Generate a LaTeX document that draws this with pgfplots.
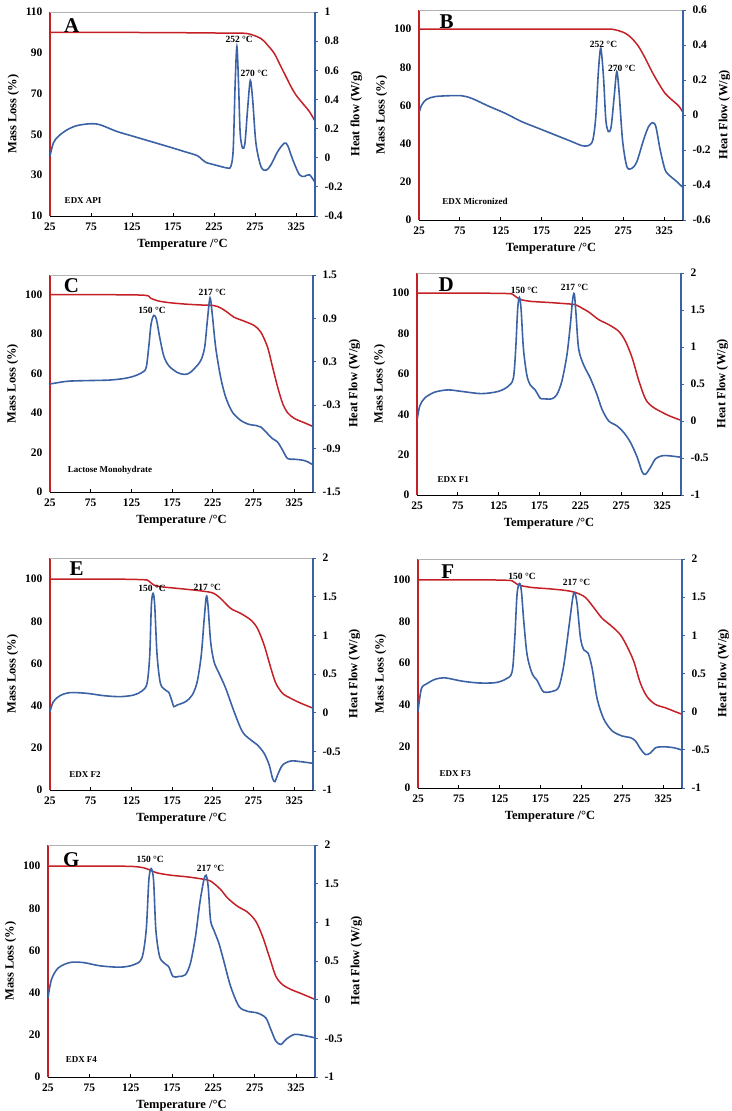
\documentclass[border=0pt]{standalone}
\usepackage{pgfplots}
\pgfplotsset{compat=1.18}
\usepackage{fontspec}
\setmainfont{Liberation Serif}
\definecolor{tgared}{RGB}{196,32,38}
\definecolor{dscblue}{RGB}{60,98,166}
\pgfplotsset{
  base/.style={scale only axis, xmin=25, xmax=348,
    /pgf/number format/assume math mode=true,
    tick label style={font=\fontsize{11.5}{12}\selectfont\bfseries},
    label style={font=\fontsize{12.5}{14}\selectfont\bfseries}},
  leftax/.style={base, axis x line*=bottom, axis y line*=left,
    xtick={25,75,...,325}, tick align=inside,
    x axis line style={black, line width=0.9pt},
    y axis line style={tgared, line width=1.8pt},
    xtick style={black, line width=0.8pt}, major tick length=3pt,
    ytick style={draw=none},
    xticklabel style={yshift=-3pt},
    yticklabel style={xshift=-4pt},
    xlabel style={yshift=-2pt},
    ylabel style={yshift=0pt},
    xlabel={Temperature /°C}, ylabel={Mass Loss (\%)},
    ymin=0, ymax=110, ytick={0,20,...,100}},
  rightax/.style={base, axis x line*=top, axis y line*=right,
    xtick=\empty, x axis line style={gray!60, line width=0.8pt},
    y axis line style={dscblue, line width=1.8pt},
    tick align=outside, ytick style={dscblue, line width=0.8pt}, major tick length=3pt,
    yticklabel style={xshift=3pt},
    ylabel style={yshift=-1pt},
    ylabel={Heat Flow (W/g)}},
  redc/.style={tgared, line width=1.5pt, smooth, no marks},
  bluec/.style={dscblue, line width=1.6pt, smooth, no marks},
}
\tikzset{
  pk/.style={font=\fontsize{9.5}{10}\selectfont\bfseries},
  letter/.style={font=\fontsize{21}{22}\selectfont\bfseries},
  samp/.style={font=\fontsize{9}{10}\selectfont\bfseries},
}
\begin{document}
\begin{tikzpicture}
\path[use as bounding box] (0pt,0pt) rectangle (731pt,1111pt);
% ---------------- A
\begin{axis}[leftax, at={(50pt,895pt)}, anchor=south west, width=265pt, height=204pt,
  ymin=10, ymax=110, ytick={10,30,...,110}]
\addplot[redc] coordinates {(25,100)(100,100)(200,99.8)(245,99.6)(265.8,99.4)(282.1,97)(290.3,93.7)(298.5,89.6)(306.6,83.1)(312.8,78.2)(318.9,73.3)(325,69.2)(333.2,65.1)(341.3,61.1)(348,56.5)};
\node[letter] at (rel axis cs:0.082,0.935) {A};
\node[samp] at (rel axis cs:0.125,0.078) {EDX API};
\end{axis}
\begin{axis}[rightax, at={(50pt,895pt)}, anchor=south west, width=265pt, height=204pt,
  ymin=-0.4, ymax=1, ytick={-0.4,-0.2,0,0.2,0.4,0.6,0.8,1}, ylabel={Heat flow (W/g)}]
\addplot[bluec] coordinates {(25,0.01)(29,0.10)(35,0.146)(45.4,0.19)(57.7,0.22)(74,0.233)(86,0.226)(106.6,0.18)(127,0.146)(147.4,0.112)(167.9,0.078)(188.3,0.043)(204.6,0.014)(210.7,-0.014)(214.8,-0.032)(225,-0.048)(241.3,-0.071)(245.4,-0.06)(248.3,0.055)(250.7,0.51)(252.8,0.763)(254.8,0.51)(256.8,0.17)(259.7,0.066)(262.6,0.10)(265.8,0.33)(269.1,0.53)(272,0.40)(276,0.10)(282.1,-0.06)(288.3,-0.087)(294.4,-0.048)(302.6,0.043)(310.7,0.10)(314.8,0.082)(320.9,-0.014)(329,-0.117)(335.2,-0.128)(341.3,-0.117)(348,-0.17)};
\node[pk] at (axis cs:255.6,0.814) {252 °C};
\node[pk] at (axis cs:274,0.576) {270 °C};
\end{axis}
% ---------------- B
\begin{axis}[leftax, at={(419pt,891pt)}, anchor=south west, width=264pt, height=210pt]
\addplot[redc] coordinates {(25,100)(150,100)(250,100)(265,99.6)(277,97.9)(285,95.3)(293.6,90.9)(301.7,84.8)(309.9,77.8)(318,71.7)(326,66.4)(334.4,62.9)(342.6,59.8)(348,56.3)};
\node[letter] at (rel axis cs:0.105,0.944) {B};
\node[samp] at (rel axis cs:0.212,0.087) {EDX Micronized};
\end{axis}
\begin{axis}[rightax, at={(419pt,891pt)}, anchor=south west, width=264pt, height=210pt,
  ymin=-0.6, ymax=0.6, ytick={-0.6,-0.4,-0.2,0,0.2,0.4,0.6}]
\addplot[bluec] coordinates {(25,0.01)(28.3,0.057)(34.4,0.09)(44.6,0.105)(61,0.11)(77.2,0.11)(89.5,0.095)(109.9,0.051)(130.3,0.01)(150.7,-0.038)(171.1,-0.076)(191.5,-0.114)(211.9,-0.152)(224.2,-0.175)(232.3,-0.175)(237.7,-0.143)(241.3,-0.01)(244.6,0.257)(247.4,0.381)(250.7,0.219)(253.6,-0.029)(256.8,-0.095)(260.1,-0.067)(263.8,0.105)(267,0.248)(269.9,0.124)(274,-0.143)(279.3,-0.295)(285.4,-0.305)(291.5,-0.267)(299.7,-0.143)(305.8,-0.067)(310.7,-0.044)(314.8,-0.067)(320.1,-0.2)(326.2,-0.314)(332.3,-0.349)(340.5,-0.381)(348,-0.415)};
\node[pk] at (axis cs:250.7,0.404) {252 °C};
\node[pk] at (axis cs:273.2,0.267) {270 °C};
\end{axis}
% ---------------- C
\begin{axis}[leftax, at={(50pt,619pt)}, anchor=south west, width=263pt, height=217pt]
\addplot[redc] coordinates {(25,100)(100,100)(142,99.7)(148.3,98.3)(156.5,97)(168.9,96.1)(189.4,95.3)(210,94.8)(226.4,94.5)(234.6,93.3)(242.8,91.1)(251,88.6)(263.4,86.6)(275.7,84.4)(284,81)(292.2,73.4)(298.3,63.4)(304.5,53.3)(310.7,44.9)(316.8,40.2)(325,37.3)(337.4,35.1)(348,33.2)};
\node[letter] at (rel axis cs:0.082,0.95) {C};
\node[samp] at (rel axis cs:0.228,0.098) {Lactose Monohydrate};
\end{axis}
\begin{axis}[rightax, at={(50pt,619pt)}, anchor=south west, width=263pt, height=217pt,
  ymin=-1.5, ymax=1.5, ytick={-1.5,-0.9,-0.3,0.3,0.9,1.5}]
\addplot[bluec] coordinates {(25,-0.007)(45.6,0.03)(66.1,0.039)(99,0.048)(119.5,0.076)(131.9,0.117)(140.1,0.167)(143.4,0.231)(146.2,0.497)(149.1,0.818)(152.4,0.941)(155.7,0.886)(159.8,0.634)(164.7,0.382)(170.9,0.245)(181.2,0.153)(189.4,0.126)(195.6,0.14)(201.7,0.199)(210,0.314)(214.9,0.497)(218.2,0.863)(221.5,1.184)(224.3,0.955)(228.5,0.497)(234.6,0.085)(240.8,-0.19)(249,-0.396)(259.3,-0.511)(269.6,-0.566)(277.8,-0.58)(284,-0.602)(292.2,-0.694)(298.3,-0.763)(304.5,-0.809)(310.7,-0.923)(316.8,-1.038)(325,-1.047)(335.3,-1.06)(341.5,-1.083)(348,-1.125)};
\node[pk] at (axis cs:150.4,1.01) {150 °C};
\node[pk] at (axis cs:224.3,1.262) {217 °C};
\end{axis}
% ---------------- D
\begin{axis}[leftax, at={(417pt,616pt)}, anchor=south west, width=264pt, height=222pt]
\addplot[redc] coordinates {(25,100)(100,100)(136.7,99.8)(142.9,99.2)(147,97.9)(153.1,96.7)(165.4,95.9)(185.9,95.4)(206.3,94.8)(218.6,94.3)(226.8,92.6)(235,90.7)(247.3,86.9)(259.6,84.4)(271.8,81.1)(280,76.2)(288.2,68)(296.4,56.6)(304.6,47.5)(312.8,43.8)(321,41.8)(333.2,39.3)(348,37)};
\node[letter] at (rel axis cs:0.111,0.946) {D};
\node[samp] at (rel axis cs:0.137,0.07) {EDX F1};
\end{axis}
\begin{axis}[rightax, at={(417pt,616pt)}, anchor=south west, width=264pt, height=222pt,
  ymin=-1, ymax=2, ytick={-1,-0.5,0,0.5,1,1.5,2}]
\addplot[bluec] coordinates {(25,0)(28.3,0.2)(34.4,0.31)(46.7,0.39)(63.1,0.42)(79.4,0.40)(104,0.37)(124.5,0.40)(136.7,0.47)(142.9,0.58)(145.8,0.98)(148.2,1.52)(150.3,1.67)(152.3,1.52)(155.2,0.98)(159.3,0.625)(163.4,0.49)(169.5,0.42)(175.6,0.31)(179.7,0.30)(190,0.30)(196.1,0.357)(202.2,0.536)(208.4,0.89)(212.5,1.29)(215.3,1.63)(217.4,1.72)(219.4,1.47)(222.7,0.98)(228.8,0.76)(237,0.58)(245.2,0.357)(251.4,0.156)(259.6,0)(269.8,-0.067)(278,-0.156)(286.2,-0.29)(294.4,-0.49)(300.5,-0.69)(304.6,-0.72)(310.7,-0.625)(316.9,-0.51)(325,-0.47)(333.2,-0.47)(348,-0.49)};
\node[pk] at (axis cs:156.4,1.76) {150 °C};
\node[pk] at (axis cs:217.8,1.81) {217 °C};
\end{axis}
% ---------------- E
\begin{axis}[leftax, at={(50pt,321pt)}, anchor=south west, width=263pt, height=232pt]
\addplot[redc] coordinates {(25,100)(100,100)(140,99.7)(146.2,99.1)(152.4,97.2)(160.6,96.4)(181.2,95.6)(201.7,94.8)(218.2,94)(226.4,93.2)(234.6,90.8)(246.9,86.1)(259.3,83.7)(271.6,80.6)(279.8,76.6)(288,68.7)(296.3,57.7)(302.4,50.6)(310.7,45.8)(320.9,43.4)(333.3,41.1)(348,38.8)};
\node[letter] at (rel axis cs:0.101,0.954) {E};
\node[samp] at (rel axis cs:0.133,0.065) {EDX F2};
\end{axis}
\begin{axis}[rightax, at={(50pt,321pt)}, anchor=south west, width=263pt, height=232pt,
  ymin=-1, ymax=2, ytick={-1,-0.5,0,0.5,1,1.5,2}]
\addplot[bluec] coordinates {(25,0.013)(29.1,0.142)(37.3,0.22)(49.7,0.259)(70.2,0.25)(90.8,0.22)(111.3,0.207)(127.8,0.228)(138,0.28)(144.2,0.379)(147.5,0.746)(149.5,1.39)(151.6,1.543)(153.6,1.39)(156.5,0.746)(160.6,0.379)(166.8,0.293)(170.9,0.263)(175,0.142)(177.1,0.078)(181.2,0.099)(191.5,0.142)(199.7,0.228)(205.8,0.40)(210.8,0.746)(214.1,1.177)(217,1.50)(219,1.39)(222.3,0.918)(226.4,0.66)(232.6,0.509)(240.8,0.315)(251.1,0.013)(261.3,-0.246)(271.6,-0.353)(279.8,-0.418)(288,-0.526)(294.2,-0.677)(298.3,-0.849)(301.2,-0.892)(304.5,-0.806)(310.7,-0.677)(320.9,-0.625)(333.3,-0.634)(348,-0.655)};
\node[pk] at (axis cs:150.4,1.61) {150 °C};
\node[pk] at (axis cs:218.2,1.62) {217 °C};
\end{axis}
% ---------------- F
\begin{axis}[leftax, at={(418pt,323pt)}, anchor=south west, width=264pt, height=229pt]
\addplot[redc] coordinates {(25,100)(100,100)(132,99.8)(140.1,99.5)(146.2,97.9)(152.3,97.1)(164.6,96.3)(185,95.7)(205.4,94.9)(217.7,93.9)(229.9,91.5)(242.1,85.6)(250.3,81.5)(262.6,77.5)(272.8,73.5)(280.9,67.9)(289.1,60.7)(297.2,50.2)(305.4,43.8)(315.6,40.1)(327.9,38.5)(338.1,36.9)(348,35.4)};
\node[letter] at (rel axis cs:0.113,0.945) {F};
\node[samp] at (rel axis cs:0.141,0.063) {EDX F3};
\end{axis}
\begin{axis}[rightax, at={(418pt,323pt)}, anchor=south west, width=264pt, height=229pt,
  ymin=-1, ymax=2, ytick={-1,-0.5,0,0.5,1,1.5,2}]
\addplot[bluec] coordinates {(25,0)(29.1,0.30)(36,0.367)(46.2,0.425)(58.5,0.442)(78.9,0.40)(99.3,0.376)(119.7,0.38)(132,0.425)(140.1,0.52)(143.4,0.965)(146.2,1.54)(149.1,1.68)(151.5,1.58)(154.4,1.186)(158.5,0.743)(164.6,0.5)(170.7,0.41)(174.8,0.323)(178.9,0.257)(189.1,0.265)(197.2,0.323)(203.4,0.61)(209.5,1.097)(214.4,1.496)(216.8,1.56)(219.7,1.407)(223.8,0.965)(227.9,0.81)(233.2,0.765)(238.1,0.566)(244.2,0.168)(252.3,-0.097)(262.6,-0.252)(274.8,-0.319)(285,-0.341)(291.1,-0.385)(297.2,-0.487)(303.4,-0.562)(309.5,-0.54)(315.6,-0.473)(325.8,-0.46)(338.1,-0.473)(348,-0.504)};
\node[pk] at (axis cs:152.3,1.77) {150 °C};
\node[pk] at (axis cs:218.9,1.69) {217 °C};
\end{axis}
% ---------------- G
\begin{axis}[leftax, at={(48pt,34pt)}, anchor=south west, width=267pt, height=232pt]
\addplot[redc] coordinates {(25,100)(100,100)(128.4,99.8)(140.5,99.2)(148.6,98.1)(156.7,96.8)(172.9,95.7)(193.2,94.9)(209.4,94)(221.6,92.9)(233.8,88.9)(241.9,85)(254,81)(266.2,78.2)(276.3,73.9)(284.4,66.8)(292.5,57.3)(300.6,47.8)(308.7,43.8)(318.9,41.5)(331,39.6)(348,36.8)};
\node[letter] at (rel axis cs:0.0875,0.935) {G};
\node[samp] at (rel axis cs:0.125,0.075) {EDX F4};
\end{axis}
\begin{axis}[rightax, at={(48pt,34pt)}, anchor=south west, width=267pt, height=232pt,
  ymin=-1, ymax=2, ytick={-1,-0.5,0,0.5,1,1.5,2}]
\addplot[bluec] coordinates {(25,0.02)(29.1,0.258)(37.2,0.408)(51.3,0.48)(67.6,0.48)(87.8,0.438)(112.2,0.42)(128.4,0.45)(138.5,0.536)(143.8,0.90)(147,1.545)(149.8,1.695)(152.7,1.545)(155.5,0.90)(160,0.558)(165.7,0.472)(170.9,0.429)(176.2,0.30)(183.1,0.30)(191.2,0.322)(197.3,0.472)(203.4,0.815)(208.6,1.245)(213.5,1.545)(216.3,1.609)(218.8,1.459)(221.6,1.03)(225.6,0.90)(231.7,0.73)(237.8,0.494)(245.9,0.172)(256,-0.086)(266.2,-0.15)(278.3,-0.172)(288.5,-0.236)(294.6,-0.386)(300.6,-0.536)(306.7,-0.579)(312.8,-0.515)(322.9,-0.45)(335.1,-0.464)(348,-0.494)};
\node[pk] at (axis cs:148.6,1.81) {150 °C};
\node[pk] at (axis cs:221.6,1.695) {217 °C};
\end{axis}
\end{tikzpicture}
\end{document}
